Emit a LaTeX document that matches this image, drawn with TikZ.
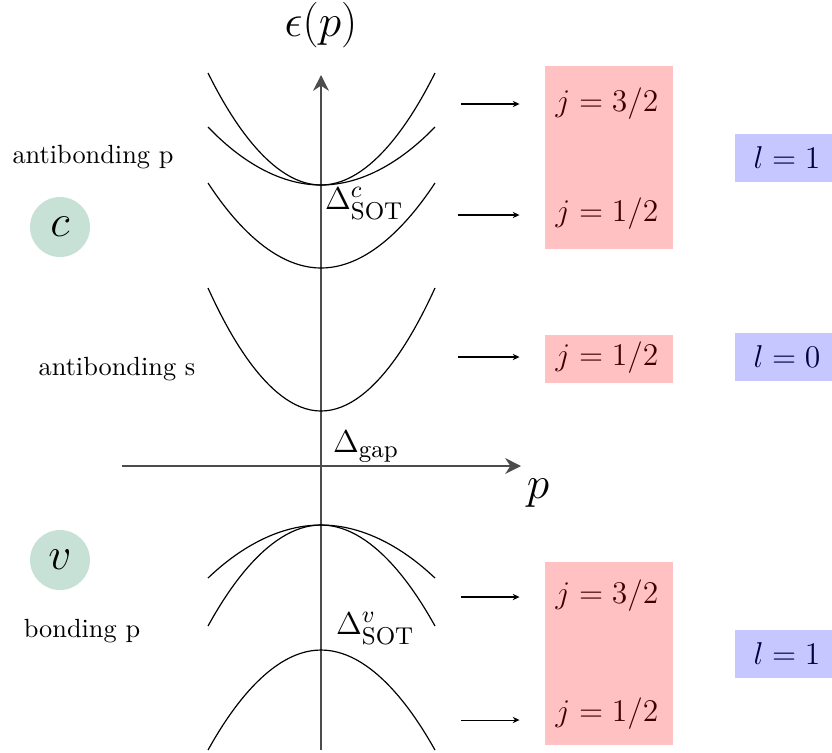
\documentclass[tikz,border=0pt]{standalone}
\usepackage{amsmath}
\usetikzlibrary{arrows.meta, positioning}
\definecolor{tagGreen}{RGB}{200,225,214}
\definecolor{jRed}{RGB}{255,193,193}
\definecolor{lBlue}{RGB}{199,199,255}

\begin{document}
\begin{tikzpicture}[
    x=0.38pt,
    y=-0.38pt,
    axis/.style={
        line width=0.5pt,
        draw=black!70,
        -{Stealth[length=6pt, width=6pt]}
    },
    band/.style={
        line width=0.45pt,
        draw=black
    },
    level_arrow/.style={
        -{Stealth[length=2.6pt, width=2.4pt]},
        line width=0.4pt,
        shorten >=9.5pt
    },
    j_box/.style={
        rectangle,
        fill=jRed,
        minimum width=48.6pt,
        inner sep=0pt
    },
    j_label/.style={
        font=\fontsize{12.9}{15}\selectfont,
        text=red!25!black
    },
    l_box/.style={
        rectangle,
        fill=lBlue,
        minimum width=39.5pt,
        minimum height=18.2pt,
        inner sep=0pt,
        font=\fontsize{12.9}{15}\selectfont,
        text=blue!25!black
    },
    band_tag/.style={
        circle,
        fill=tagGreen,
        minimum size=22.8pt,
        inner sep=0pt,
        font=\LARGE
    },
    side_label/.style={
        font=\normalsize
    },
    delta_label/.style={
        font=\fontsize{13.2}{15}\selectfont,
        anchor=west,
        inner sep=1pt
    }
]
    \useasboundingbox (0,0) rectangle (832,752);

    % Axes
    \coordinate (o) at (321,466);
    \coordinate (ybot) at (321,750);
    \coordinate (ytop) at (321,75);
    \coordinate (xleft) at (122,466);
    \coordinate (xright) at (521,466);
    \draw[axis] (ybot) -- (ytop);
    \draw[axis] (xleft) -- (xright);
    \node[font=\fontsize{18.5}{22}\selectfont] (eps) at (321,25) {$\epsilon(p)$};
    \node[font=\LARGE] (pax) at (538,493) {$p$};

    % Conduction bands
    \draw[band] (208,73) parabola bend (321,185) (435,73);
    \draw[band] (208,127) parabola bend (321,185) (435,127);
    \draw[band] (208,183) parabola bend (321,268) (435,183);
    \draw[band] (208,288) parabola bend (321,411) (435,288);

    % Valence bands
    \draw[band] (208,578) parabola bend (321,525) (435,578);
    \draw[band] (208,626) parabola bend (321,525) (435,626);
    \draw[band] (208,750) parabola bend (321,650) (435,750);

    % Splittings
    \node[delta_label] (dc) at (322,204) {$\Delta^c_{\text{SOT}}$};
    \node[delta_label] (dgap) at (330,447) {$\Delta_{\text{gap}}$};
    \node[delta_label] (dv) at (333,629) {$\Delta^v_{\text{SOT}}$};

    % Band names
    \node[side_label] (abp) at (93,157) {antibonding p};
    \node[side_label] (abs) at (117,369) {antibonding s};
    \node[side_label] (bp) at (82,631) {bonding p};
    \node[band_tag] (ctag) at (60,227) {$c$};
    \node[band_tag] (vtag) at (60,560) {$v$};

    % j boxes
    \node[j_box, minimum height=69.5pt] (jtop) at (609,157.5) {};
    \node[j_box, minimum height=18.2pt] (jmid) at (609,359) {};
    \node[j_box, minimum height=69.5pt] (jbot) at (609,653.5) {};
    \node[j_label] (j1) at (607,104) {$j=3/2$};
    \node[j_label] (j2) at (607,214) {$j=1/2$};
    \node[j_label] (j3) at (607,358) {$j=1/2$};
    \node[j_label] (j4) at (607,596) {$j=3/2$};
    \node[j_label] (j5) at (607,714) {$j=1/2$};

    % l boxes
    \node[l_box] (l1) at (787,158) {$l=1$};
    \node[l_box] (l2) at (787,357) {$l=0$};
    \node[l_box] (l3) at (787,654) {$l=1$};

    % Level arrows
    \coordinate (a1) at (461,104);
    \coordinate (a2) at (458,215);
    \coordinate (a3) at (458,357);
    \coordinate (a4) at (461,597);
    \coordinate (a5) at (461,720);
    \draw[level_arrow] (a1) -- (a1 -| jtop.west);
    \draw[level_arrow] (a2) -- (a2 -| jtop.west);
    \draw[level_arrow] (a3) -- (a3 -| jmid.west);
    \draw[level_arrow] (a4) -- (a4 -| jbot.west);
    \draw[level_arrow] (a5) -- (a5 -| jbot.west);
\end{tikzpicture}
\end{document}
